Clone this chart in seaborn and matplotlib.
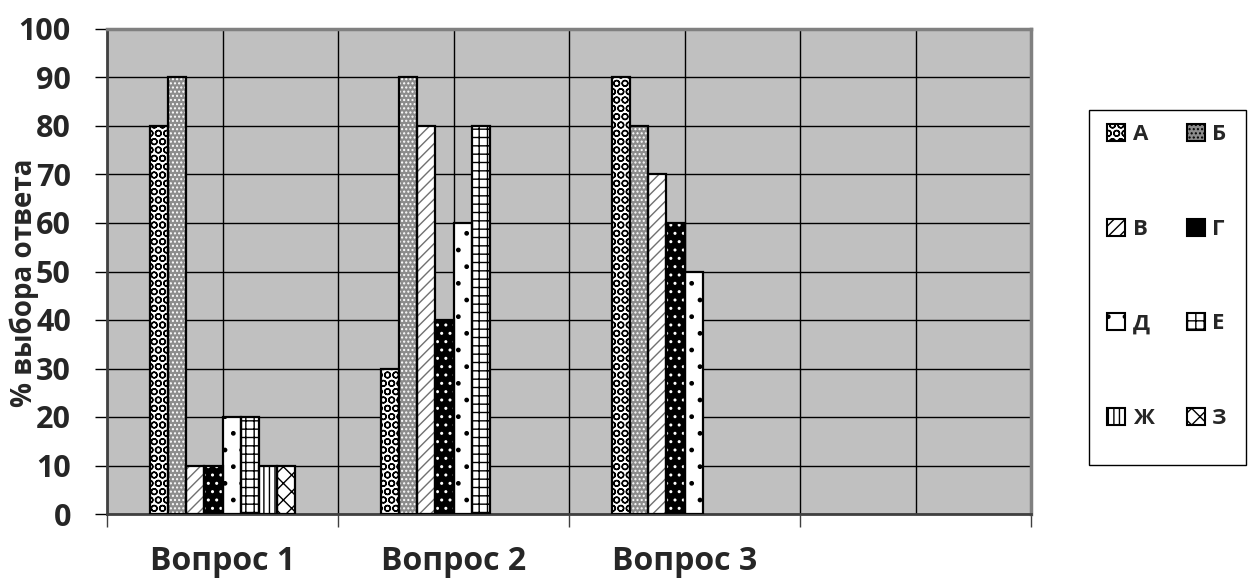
import numpy as np
import pandas as pd
import matplotlib.pyplot as plt
import seaborn as sns
from matplotlib.patches import Patch, Rectangle

# данные
questions = ['Вопрос 1', 'Вопрос 2', 'Вопрос 3']
options = ['А', 'Б', 'В', 'Г', 'Д', 'Е', 'Ж', 'З']
q1 = [80, 90, 10, 10, 20, 20, 10, 10]
q2 = [30, 90, 80, 40, 60, 80]
q3 = [90, 80, 70, 60, 50]
y_ticks = list(range(0, 101, 10))
y_label = '% выбора ответа'

rows = []
for q, vals in zip(questions, [q1, q2, q3]):
    for opt, v in zip(options, vals):
        rows.append({'q': q, 'opt': opt, 'v': v})
df = pd.DataFrame(rows)

# заливка: (фон, цвет штриховки, штриховка)
styles = {
    'А': ('white', 'black', 'OO'),
    'Б': ('#8c8c8c', 'white', '....'),
    'В': ('white', '#707070', '///'),
    'Г': ('black', 'white', '..'),
    'Д': ('white', 'black', '.'),
    'Е': ('white', 'black', '++'),
    'Ж': ('white', 'black', '|||'),
    'З': ('white', 'black', 'xx'),
}

sns.set_style('white')
plt.rcParams['font.family'] = ['Open Sans', 'DejaVu Sans']
plt.rcParams['font.weight'] = 'bold'
plt.rcParams['hatch.linewidth'] = 1.0

fig = plt.figure(figsize=(12.48, 5.78), dpi=100)
ax = fig.add_axes([107 / 1248, 1 - 514 / 578, 924 / 1248, 485 / 578])

order = questions + [' ']
sns.barplot(data=df, x='q', y='v', hue='opt', order=order, hue_order=options,
            width=0.625, saturation=1, legend=False, ax=ax, zorder=3)

for opt, cont in zip(options, ax.containers):
    fc, hc, h = styles[opt]
    for p in cont.patches:
        p.set_facecolor(fc)
        p.set_edgecolor(hc)
        p.set_hatch(h)
        p.set_linewidth(0)
        ax.add_patch(Rectangle(p.get_xy(), p.get_width(), p.get_height(), fill=False,
                               ec='black', lw=1.6, zorder=4))

ax.set_facecolor('#c0c0c0')
ax.set_xlim(-0.5, 3.5)
ax.set_ylim(0, 100)
ax.set_yticks(y_ticks)
ax.set_xticks(np.arange(-0.5, 4, 1), minor=True)
ax.grid(True, which='both', color='black', lw=1, zorder=0)
ax.set_axisbelow(True)

ax.tick_params(axis='y', which='major', left=True, length=9, width=1, color='black',
               labelsize=22, pad=17)
ax.tick_params(axis='x', which='major', bottom=False, length=0, labelsize=23, pad=22)
ax.tick_params(axis='x', which='minor', bottom=True, length=9, width=1, color='#404040')
for t in ax.get_yticklabels() + ax.get_xticklabels():
    t.set_fontweight('bold')

ax.set_xlabel('')
ax.set_ylabel(y_label, fontsize=20, fontweight='bold')
ax.yaxis.set_label_coords(-0.074, 0.476)

for side in ['top', 'right']:
    ax.spines[side].set_color('#808080')
    ax.spines[side].set_linewidth(2.5)
ax.spines['left'].set_color('#404040')
ax.spines['left'].set_linewidth(2)
ax.spines['bottom'].set_color('#404040')
ax.spines['bottom'].set_linewidth(2)

# рамка легенды
fig.patches.append(Rectangle((1089 / 1248, 1 - 465 / 578), 157 / 1248, 355 / 578,
                             transform=fig.transFigure, facecolor='white',
                             edgecolor='black', lw=1, zorder=0))

# легенда построчно: А Б / В Г / Д Е / Ж З
leg_order = ['А', 'В', 'Д', 'Ж', 'Б', 'Г', 'Е', 'З']
handles = [Patch(facecolor=styles[o][0], edgecolor='black', hatch=styles[o][2], lw=1.5)
           for o in leg_order]
leg = fig.legend(handles, leg_order, ncol=2, loc='upper left',
                 bbox_to_anchor=(1107 / 1248, 1 - 124 / 578), borderaxespad=0,
                 prop={'size': 16, 'weight': 'bold'},
                 handlelength=0.8, handleheight=0.8, handletextpad=0.35,
                 columnspacing=1.5, labelspacing=3.3, borderpad=0,
                 frameon=False)

fig.savefig('out.png', dpi=100)
